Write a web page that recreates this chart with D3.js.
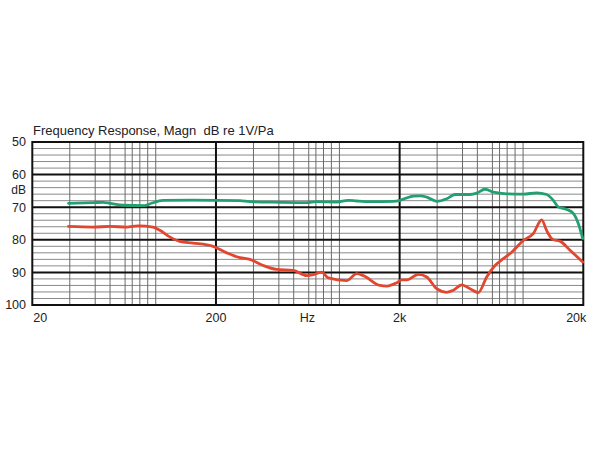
<!DOCTYPE html>
<html>
<head>
<meta charset="utf-8">
<script src="https://d3js.org/d3.v7.min.js"></script>
<style>
html,body{margin:0;padding:0;background:#fff;}
svg text{font-family:"Liberation Sans",Arial,sans-serif;fill:#222;}
</style>
</head>
<body>
<svg id="chart" width="600" height="450"></svg>
<script>
// ---- data ----
const greenFreq = [31.5,43,48.7,53,62.6,82,89,103,150,270,306,446,624,707,908,1051,1168,1379,1848,2009,2278,2374,2582,2808,3184,3608,4004,4832,5256,5830,6472,7654,9426,11150,12640,13730,14620,16240,17640,18780,19850];
const greenDb   = [68.8,68.6,68.5,68.8,69.4,69.5,68.8,67.9,67.8,68.0,68.3,68.5,68.6,68.3,68.4,67.9,68.1,68.3,68.2,67.9,66.8,66.6,66.5,66.9,68.2,67.4,66.1,66.1,65.7,64.5,65.4,65.9,66.0,65.6,66.1,67.9,69.9,70.7,71.9,75.0,79.6];
const redFreq = [31.5,43,53,65.3,75.5,91,99,112,127,150,193,229,270,306,362,428,527,624,678,753,818,1030,1168,1268,1564,1701,1928,2052,2186,2527,2808,3184,3608,3920,4354,4832,5364,5958,6612,7336,8152,9426,10680,11870,12640,13630,14930,16930,19850];
const redDb   = [75.9,76.1,75.9,76.1,75.7,76.1,77.1,79.1,80.5,81.0,82.0,84.0,85.5,86.0,87.9,89.1,89.4,91.0,90.7,89.9,91.7,92.5,90.4,91.0,94.0,94.2,93.2,92.3,92.3,90.6,91.4,95.0,96.1,95.5,93.8,95.0,96.2,91.4,87.9,85.8,83.8,80.2,78.1,73.9,77.2,79.9,80.4,83.2,86.8];
const decadeStarts = [20,200,2000];
const minorMultipliers = [1.6,2.2,2.65,3.2,3.5,3.85,4.25,4.7];
const majorFreqs = [200,2000];
const xTickLabels = [{f:20,t:"20"},{f:200,t:"200"},{f:630,t:"Hz"},{f:2000,t:"2k"},{f:20000,t:"20k"}];
const yTicks = [50,60,70,80,90,100];
const title = "Frequency Response, Magn  dB re 1V/Pa";

// ---- layout ----
const svg = d3.select("#chart");
const x = d3.scaleLog().domain([20,20000]).range([32.3,583.3]);
const y = d3.scaleLinear().domain([50,100]).range([142,305]);
const g = svg.append("g");

// minor horizontal lines every 2 dB
const minorDb = d3.range(52,100,2).filter(v=>v%10!==0);
g.selectAll(".hmin").data(minorDb).enter().append("line")
  .attr("x1",x(20)).attr("x2",x(20000)).attr("y1",d=>y(d)).attr("y2",d=>y(d))
  .attr("stroke","#8a8a8a").attr("stroke-width",1);

// minor vertical lines
const minorFreqs = [];
decadeStarts.forEach(s=>minorMultipliers.forEach(m=>minorFreqs.push(s*m)));
g.selectAll(".vmin").data(minorFreqs).enter().append("line")
  .attr("x1",d=>x(d)).attr("x2",d=>x(d)).attr("y1",y(50)).attr("y2",y(100))
  .attr("stroke","#6a6a6a").attr("stroke-width",1);

// major horizontal
g.selectAll(".hmaj").data([60,70,80,90]).enter().append("line")
  .attr("x1",x(20)).attr("x2",x(20000)).attr("y1",d=>y(d)).attr("y2",d=>y(d))
  .attr("stroke","#111").attr("stroke-width",2);
// major vertical
g.selectAll(".vmaj").data(majorFreqs).enter().append("line")
  .attr("x1",d=>x(d)).attr("x2",d=>x(d)).attr("y1",y(50)).attr("y2",y(100))
  .attr("stroke","#111").attr("stroke-width",2);
// frame
g.append("rect").attr("x",x(20)).attr("y",y(50))
  .attr("width",x(20000)-x(20)).attr("height",y(100)-y(50))
  .attr("fill","none").attr("stroke","#111").attr("stroke-width",2);

// curves
const line = d3.line().x(d=>x(d[0])).y(d=>y(d[1])).curve(d3.curveMonotoneX);
g.append("path").datum(greenFreq.map((f,i)=>[f,greenDb[i]]))
  .attr("d",line).attr("fill","none").attr("stroke","#23a071").attr("stroke-width",2.8)
  .attr("stroke-linejoin","round").attr("stroke-linecap","round");
g.append("path").datum(redFreq.map((f,i)=>[f,redDb[i]]))
  .attr("d",line).attr("fill","none").attr("stroke","#e2462f").attr("stroke-width",2.8)
  .attr("stroke-linejoin","round").attr("stroke-linecap","round");

// y labels
svg.selectAll(".ylab").data(yTicks).enter().append("text")
  .attr("x",26).attr("y",d=>y(d)).attr("dy","0.35em")
  .attr("text-anchor","end").attr("font-size",12.5).text(d=>d);
svg.append("text").attr("x",26).attr("y",190).attr("dy","0.35em")
  .attr("text-anchor","end").attr("font-size",12).text("dB");

// x labels
svg.selectAll(".xlab").data(xTickLabels).enter().append("text")
  .attr("x",d=>d.f===20?x(d.f)+1:(d.f===20000?x(d.f)+3:x(d.f)))
  .attr("y",322)
  .attr("text-anchor",d=>d.f===20?"start":(d.f===20000?"end":"middle"))
  .attr("font-size",12.5).text(d=>d.t);

// title
svg.append("text").attr("x",33).attr("y",135).attr("font-size",13)
  .style("white-space","pre").attr("xml:space","preserve").text(title);
</script>
</body>
</html>
